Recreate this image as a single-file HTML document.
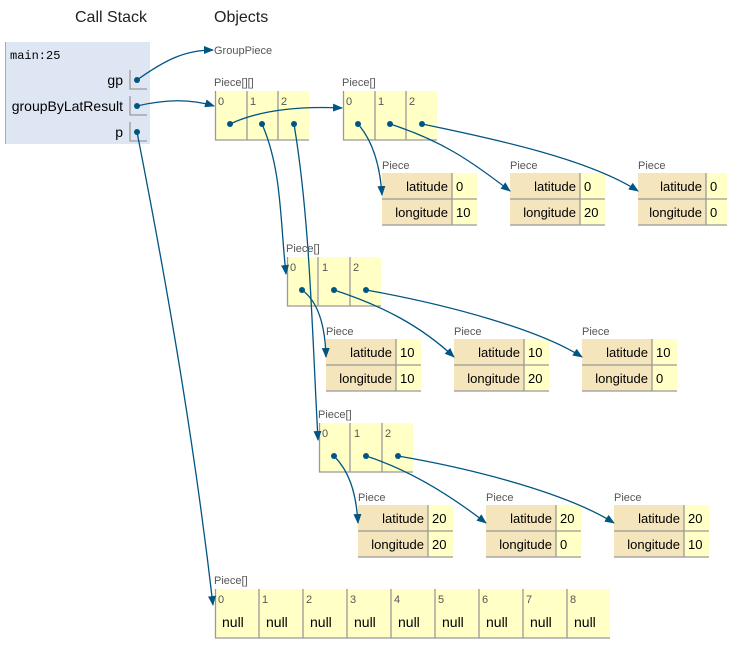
<!DOCTYPE html>
<html><head><meta charset="utf-8"><style>
html,body{margin:0;padding:0;background:#fff;}
svg{display:block;font-family:"Liberation Sans",sans-serif;}
.h{font-size:16px;fill:#222;}
.lbl{font-size:11px;fill:#555;}
.idx{font-size:11px;fill:#555;}
.v{font-size:13px;fill:#000;}
.arr{fill:#ffffc6;}
.nm{fill:#f5e5bd;}
.ln{stroke:#999;stroke-width:1.3;fill:none;}
.e{stroke:#005583;stroke-width:1.3;fill:none;marker-end:url(#ah);}
.d{fill:#005583;}
</style></head><body>
<svg width="735" height="647" viewBox="0 0 735 647">
<defs><marker id="ah" markerWidth="10" markerHeight="8" refX="9" refY="4" orient="auto" markerUnits="userSpaceOnUse"><path d="M0,0 L10,4 L0,8 z" fill="#005583"/></marker></defs>
<text class="h" x="75" y="22">Call Stack</text>
<text class="h" x="214" y="22">Objects</text>
<!-- stack frame -->
<rect x="5" y="42" width="145" height="102" fill="#dfe6f3"/>
<line x1="5.5" y1="42" x2="5.5" y2="144" stroke="#aaa"/>
<text x="10" y="59" style="font-family:'Liberation Mono',monospace;font-size:12px">main:25</text>
<text class="v" x="123" y="85" text-anchor="end" style="font-size:14px">gp</text>
<text class="v" x="123" y="111" text-anchor="end" style="font-size:14px">groupByLatResult</text>
<text class="v" x="123" y="137" text-anchor="end" style="font-size:14px">p</text>
<path class="ln" d="M130,70 V89 H147 M130,96 V115 H147 M130,122 V141 H147"/>
<circle class="d" cx="137" cy="80" r="3"/><circle class="d" cx="137" cy="106" r="3"/><circle class="d" cx="137" cy="132" r="3"/>
<text class="lbl" x="214" y="54">GroupPiece</text>

<!-- Piece[][] -->
<text class="lbl" x="214" y="86">Piece[][]</text>
<rect class="arr" x="215" y="91" width="94" height="49"/>
<path class="ln" d="M215.5,91 V140 H309 M247,91 V140 M278,91 V140"/>
<text class="idx" x="218" y="105">0</text><text class="idx" x="250" y="105">1</text><text class="idx" x="281" y="105">2</text>

<!-- Piece[] row1 -->
<text class="lbl" x="342" y="86">Piece[]</text>
<rect class="arr" x="343" y="91" width="94" height="49"/>
<path class="ln" d="M343.5,91 V140 H437 M375,91 V140 M406,91 V140"/>
<text class="idx" x="346" y="105">0</text><text class="idx" x="378" y="105">1</text><text class="idx" x="409" y="105">2</text>

<!-- Piece[] row2 -->
<text class="lbl" x="286" y="252">Piece[]</text>
<rect class="arr" x="287" y="257" width="94" height="49"/>
<path class="ln" d="M287.5,257 V306 H381 M318,257 V306 M350,257 V306"/>
<text class="idx" x="290" y="271">0</text><text class="idx" x="322" y="271">1</text><text class="idx" x="353" y="271">2</text>

<!-- Piece[] row3 -->
<text class="lbl" x="318" y="418">Piece[]</text>
<rect class="arr" x="319" y="423" width="94" height="49"/>
<path class="ln" d="M319.5,423 V472 H413 M350,423 V472 M382,423 V472"/>
<text class="idx" x="322" y="437">0</text><text class="idx" x="354" y="437">1</text><text class="idx" x="385" y="437">2</text>

<!-- bottom Piece[] -->
<text class="lbl" x="214" y="584">Piece[]</text>
<rect class="arr" x="215" y="589" width="395" height="49"/>
<path class="ln" d="M215.5,589 V638 H610 M259,589 V638 M303,589 V638 M347,589 V638 M391,589 V638 M435,589 V638 M479,589 V638 M523,589 V638 M567,589 V638"/>
<g class="idx">
<text x="218" y="603">0</text><text x="262" y="603">1</text><text x="306" y="603">2</text><text x="350" y="603">3</text><text x="394" y="603">4</text><text x="438" y="603">5</text><text x="482" y="603">6</text><text x="526" y="603">7</text><text x="570" y="603">8</text>
</g>
<g class="v" style="font-size:14px">
<text x="222" y="627">null</text><text x="266" y="627">null</text><text x="310" y="627">null</text><text x="354" y="627">null</text><text x="398" y="627">null</text><text x="442" y="627">null</text><text x="486" y="627">null</text><text x="530" y="627">null</text><text x="574" y="627">null</text>
</g>

<!-- Piece objects -->
<g id="pieces">
<!-- row 1 -->
<text class="lbl" x="382" y="169">Piece</text>
<rect class="nm" x="382" y="173" width="70" height="52"/><rect class="arr" x="452" y="173" width="25" height="52"/>
<path class="ln" d="M382,199 H477 M382,225 H477 M452,173 V225"/>
<text class="v" x="448" y="191" text-anchor="end">latitude</text><text class="v" x="448" y="217" text-anchor="end">longitude</text>
<text class="v" x="456" y="191">0</text><text class="v" x="456" y="217">10</text>

<text class="lbl" x="510" y="169">Piece</text>
<rect class="nm" x="510" y="173" width="70" height="52"/><rect class="arr" x="580" y="173" width="25" height="52"/>
<path class="ln" d="M510,199 H605 M510,225 H605 M580,173 V225"/>
<text class="v" x="576" y="191" text-anchor="end">latitude</text><text class="v" x="576" y="217" text-anchor="end">longitude</text>
<text class="v" x="584" y="191">0</text><text class="v" x="584" y="217">20</text>

<text class="lbl" x="638" y="169">Piece</text>
<rect class="nm" x="638" y="173" width="68" height="52"/><rect class="arr" x="706" y="173" width="21" height="52"/>
<path class="ln" d="M638,199 H727 M638,225 H727 M706,173 V225"/>
<text class="v" x="702" y="191" text-anchor="end">latitude</text><text class="v" x="702" y="217" text-anchor="end">longitude</text>
<text class="v" x="710" y="191">0</text><text class="v" x="710" y="217">0</text>

<!-- row 2 -->
<text class="lbl" x="326" y="335">Piece</text>
<rect class="nm" x="326" y="339" width="70" height="52"/><rect class="arr" x="396" y="339" width="25" height="52"/>
<path class="ln" d="M326,365 H421 M326,391 H421 M396,339 V391"/>
<text class="v" x="392" y="357" text-anchor="end">latitude</text><text class="v" x="392" y="383" text-anchor="end">longitude</text>
<text class="v" x="400" y="357">10</text><text class="v" x="400" y="383">10</text>

<text class="lbl" x="454" y="335">Piece</text>
<rect class="nm" x="454" y="339" width="70" height="52"/><rect class="arr" x="524" y="339" width="25" height="52"/>
<path class="ln" d="M454,365 H549 M454,391 H549 M524,339 V391"/>
<text class="v" x="520" y="357" text-anchor="end">latitude</text><text class="v" x="520" y="383" text-anchor="end">longitude</text>
<text class="v" x="528" y="357">10</text><text class="v" x="528" y="383">20</text>

<text class="lbl" x="582" y="335">Piece</text>
<rect class="nm" x="582" y="339" width="70" height="52"/><rect class="arr" x="652" y="339" width="25" height="52"/>
<path class="ln" d="M582,365 H677 M582,391 H677 M652,339 V391"/>
<text class="v" x="648" y="357" text-anchor="end">latitude</text><text class="v" x="648" y="383" text-anchor="end">longitude</text>
<text class="v" x="656" y="357">10</text><text class="v" x="656" y="383">0</text>

<!-- row 3 -->
<text class="lbl" x="358" y="501">Piece</text>
<rect class="nm" x="358" y="505" width="70" height="52"/><rect class="arr" x="428" y="505" width="25" height="52"/>
<path class="ln" d="M358,531 H453 M358,557 H453 M428,505 V557"/>
<text class="v" x="424" y="523" text-anchor="end">latitude</text><text class="v" x="424" y="549" text-anchor="end">longitude</text>
<text class="v" x="432" y="523">20</text><text class="v" x="432" y="549">20</text>

<text class="lbl" x="486" y="501">Piece</text>
<rect class="nm" x="486" y="505" width="70" height="52"/><rect class="arr" x="556" y="505" width="25" height="52"/>
<path class="ln" d="M486,531 H581 M486,557 H581 M556,505 V557"/>
<text class="v" x="552" y="523" text-anchor="end">latitude</text><text class="v" x="552" y="549" text-anchor="end">longitude</text>
<text class="v" x="560" y="523">20</text><text class="v" x="560" y="549">0</text>

<text class="lbl" x="614" y="501">Piece</text>
<rect class="nm" x="614" y="505" width="70" height="52"/><rect class="arr" x="684" y="505" width="25" height="52"/>
<path class="ln" d="M614,531 H709 M614,557 H709 M684,505 V557"/>
<text class="v" x="680" y="523" text-anchor="end">latitude</text><text class="v" x="680" y="549" text-anchor="end">longitude</text>
<text class="v" x="688" y="523">20</text><text class="v" x="688" y="549">10</text>
</g>

<!-- edges -->
<path class="e" d="M137,80 C165,60 185,50 213,50"/>
<path class="e" d="M137,106 C170,98 195,100 214,106"/>
<path class="e" d="M137,132 C170,300 195,450 213,605"/>
<path class="e" d="M230,124 C260,110 300,106 342,108"/>
<path class="e" d="M262,124 C282,170 280,220 286,274"/>
<path class="e" d="M294,124 C310,220 312,330 318,440"/>

<path class="e" d="M358,124 C372,140 380,165 382,195"/>
<path class="e" d="M390,124 C440,140 470,160 510,191"/>
<path class="e" d="M422,124 C500,140 590,160 638,191"/>

<path class="e" d="M302,290 C316,300 325,320 326,357"/>
<path class="e" d="M334,290 C380,305 420,325 454,357"/>
<path class="e" d="M366,290 C450,305 540,330 582,357"/>

<path class="e" d="M334,456 C348,470 356,490 358,523"/>
<path class="e" d="M366,456 C410,470 450,495 486,523"/>
<path class="e" d="M398,456 C480,470 570,495 614,523"/>

<g class="d">
<circle cx="230" cy="124" r="3"/><circle cx="262" cy="124" r="3"/><circle cx="294" cy="124" r="3"/>
<circle cx="358" cy="124" r="3"/><circle cx="390" cy="124" r="3"/><circle cx="422" cy="124" r="3"/>
<circle cx="302" cy="290" r="3"/><circle cx="334" cy="290" r="3"/><circle cx="366" cy="290" r="3"/>
<circle cx="334" cy="456" r="3"/><circle cx="366" cy="456" r="3"/><circle cx="398" cy="456" r="3"/>
</g>
</svg>
</body></html>
